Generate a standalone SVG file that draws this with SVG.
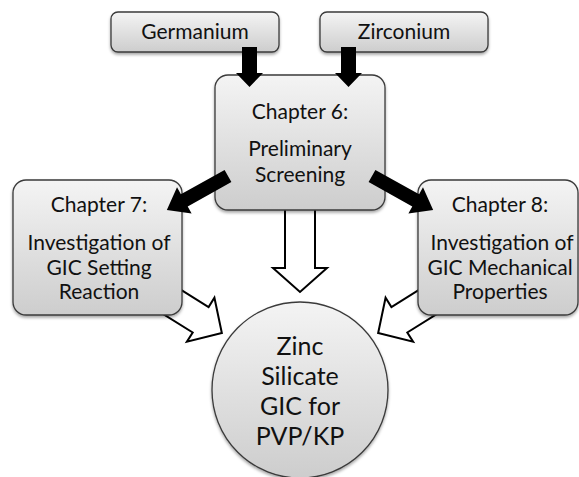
<svg xmlns="http://www.w3.org/2000/svg" width="579" height="477" viewBox="0 0 579 477">
<defs>
<linearGradient id="g" x1="0" y1="0" x2="0" y2="1">
<stop offset="0" stop-color="#f4f4f4"/>
<stop offset="1" stop-color="#cdcdcd"/>
</linearGradient>
<filter id="sh" x="-10%" y="-10%" width="120%" height="130%">
<feDropShadow dx="0" dy="2" stdDeviation="1.5" flood-color="#000" flood-opacity="0.35"/>
</filter>
<style>
.box{fill:url(#g);stroke:#3a3a3a;stroke-width:1.3;filter:url(#sh)}
.t{font-family:Lato,"Open Sans","Liberation Sans",sans-serif;font-size:21px;fill:#111;text-anchor:middle}
.c{font-size:25px}
.hol{fill:#fff;stroke:#000;stroke-width:2;stroke-linejoin:miter}
.blk{fill:#000;stroke:none}
</style>
</defs>
<rect width="579" height="477" fill="#fff"/>
<g id="connectors-hollow">
<polygon class="hol" points="285,195 315,195 315,268 327,268 300,292 273,268 285,268"/>
<polygon class="hol" transform="translate(154,290.6) rotate(32)" points="0,-15 55,-15 55,-26 80,0 55,26 55,15 0,15"/>
<polygon class="hol" transform="translate(446,290.6) rotate(148)" points="0,-15 55,-15 55,-26 80,0 55,26 55,15 0,15"/>
</g>
<g id="node-germanium">
<rect class="box" x="111" y="12" width="168" height="40" rx="7"/>
<text class="t" x="195" y="39">Germanium</text>
</g>
<g id="node-zirconium">
<rect class="box" x="320" y="12" width="168" height="40" rx="7"/>
<text class="t" x="404" y="39">Zirconium</text>
</g>
<g id="node-ch6">
<rect class="box" x="215" y="75" width="170" height="135" rx="13"/>
<text class="t" x="300" y="119">Chapter 6:</text>
<text class="t" x="300" y="156">Preliminary</text>
<text class="t" x="300" y="182">Screening</text>
</g>
<g id="node-ch7">
<rect class="box" x="13" y="180" width="169" height="135" rx="13"/>
<text class="t" x="99" y="212">Chapter 7:</text>
<text class="t" x="99" y="250">Investigation of</text>
<text class="t" x="99" y="275">GIC Setting</text>
<text class="t" x="99" y="299">Reaction</text>
</g>
<g id="node-ch8">
<rect class="box" x="418" y="180" width="160" height="135" rx="13"/>
<text class="t" x="500" y="212">Chapter 8:</text>
<text class="t" x="502" y="250">Investigation of</text>
<text class="t" x="500" y="275">GIC Mechanical</text>
<text class="t" x="500" y="299">Properties</text>
</g>
<g id="node-zinc">
<circle class="box" cx="300" cy="390" r="88"/>
<text class="t c" x="300" y="355">Zinc</text>
<text class="t c" x="300" y="385">Silicate</text>
<text class="t c" x="300" y="415">GIC for</text>
<text class="t c" x="300" y="445">PVP/KP</text>
</g>
<g id="connectors-solid">
<polygon class="blk" points="242,47 257,47 257,73 263,73 249.5,87 236,73 242,73"/>
<polygon class="blk" points="341,47 356,47 356,73 362,73 348.5,87 335,73 341,73"/>
<polygon class="blk" transform="translate(228,176) rotate(150.9)" points="0,-7 50,-7 50,-15 70,0 50,15 50,7 0,7"/>
<polygon class="blk" transform="translate(372,176) rotate(29.1)" points="0,-7 50,-7 50,-15 70,0 50,15 50,7 0,7"/>
</g>
</svg>
